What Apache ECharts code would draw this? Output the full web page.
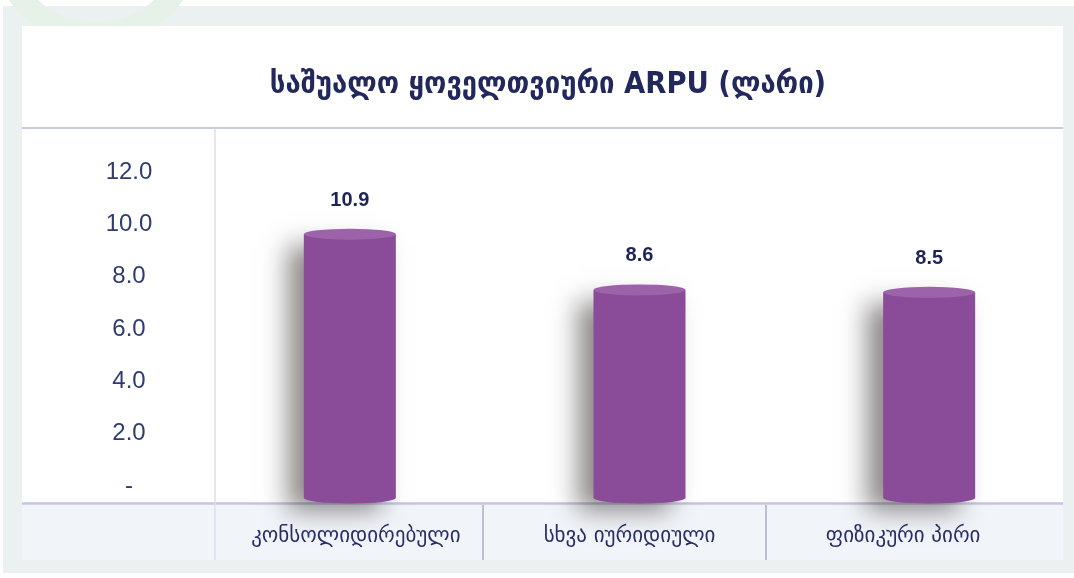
<!DOCTYPE html>
<html>
<head>
<meta charset="utf-8">
<script src="https://cdn.jsdelivr.net/npm/echarts@6/dist/echarts.min.js"></script>
<style>
  html, body { margin: 0; padding: 0; background: #ffffff; }
  #chart { width: 1074px; height: 578px; }
</style>
</head>
<body>
<div id="chart"></div>
<script>
// ---- data ----
const chartTitle = 'საშუალო ყოველთვიური ARPU (ლარი)';
const categories = ['კონსოლიდირებული', 'სხვა იურიდიული', 'ფიზიკური პირი'];
const arpuValues = [10.9, 8.6, 8.5];
const yAxisMin = 0;
const yAxisMax = 12;
const yAxisStep = 2;

// ---- styles ----
const BAR = '#8A4B98';
const BAR_TOP = '#9D63AA';
const GEO_FONT = "'DejaVu Sans', 'Noto Sans', sans-serif";
const NUM_FONT = "'Liberation Sans', Arial, sans-serif";

const chart = echarts.init(document.getElementById('chart'), null, { renderer: 'canvas' });

const option = {
  animation: false,
  backgroundColor: '#ffffff',
  title: {
    text: chartTitle,
    left: 543,
    top: 65,
    textAlign: 'center',
    textStyle: {
      fontFamily: "'DejaVu Sans Condensed', 'DejaVu Sans', sans-serif",
      fontWeight: 'bold',
      fontSize: 30.5,
      color: '#23285C'
    }
  },
  graphic: [
    { type: 'rect', z: -10, shape: { x: 3, y: 6, width: 1071, height: 567 }, style: { fill: '#EBF1F0' } },
    { type: 'circle', z: -9, shape: { cx: 96, cy: -62, r: 96 }, style: { fill: 'none', stroke: '#E6F1E8', lineWidth: 22 } },
    { type: 'rect', z: -8, shape: { x: 22, y: 26, width: 1041, height: 534 }, style: { fill: '#ffffff' } },
    { type: 'rect', z: -7, shape: { x: 22, y: 503, width: 1041, height: 57 }, style: { fill: '#F1F5F9' } },
    { type: 'line', z: -6, shape: { x1: 22, y1: 128, x2: 1063, y2: 128 }, style: { stroke: '#C9CCDF', lineWidth: 2 } },
    { type: 'line', z: -6, shape: { x1: 22, y1: 503.5, x2: 1063, y2: 503.5 }, style: { stroke: '#C3C7DC', lineWidth: 2.5 } },
    { type: 'line', z: -6, shape: { x1: 215, y1: 129, x2: 215, y2: 560 }, style: { stroke: '#DEDEEB', lineWidth: 1.5 } },
    { type: 'line', z: -6, shape: { x1: 483, y1: 505, x2: 483, y2: 560 }, style: { stroke: '#BCC0D5', lineWidth: 2 } },
    { type: 'line', z: -6, shape: { x1: 766, y1: 505, x2: 766, y2: 560 }, style: { stroke: '#BCC0D5', lineWidth: 2 } }
  ],
  grid: [
    { left: 215, width: 848, top: 172, height: 314 },   // y labels
    { left: 205, width: 870, top: 207.6, height: 290.4 }, // bars
    { left: 219, width: 821, top: 503, height: 57 }       // category row
  ],
  xAxis: [
    { gridIndex: 0, type: 'category', data: categories, show: false },
    { gridIndex: 1, type: 'category', data: categories, show: false },
    {
      gridIndex: 2, type: 'category', data: categories, position: 'bottom',
      axisLine: { show: false }, axisTick: { show: false }, splitLine: { show: false },
      axisLabel: {
        margin: -23, verticalAlign: 'middle', interval: 0,
        fontFamily: GEO_FONT, fontSize: 21, color: '#2A2E68'
      }
    }
  ],
  yAxis: [
    {
      gridIndex: 0, type: 'value', min: yAxisMin, max: yAxisMax, interval: yAxisStep,
      axisLine: { show: false }, axisTick: { show: false }, splitLine: { show: false },
      axisLabel: {
        align: 'center', margin: 86,
        fontFamily: NUM_FONT, fontSize: 24, color: '#2E3C70',
        formatter: v => (v === 0 ? '-' : v.toFixed(1))
      }
    },
    { gridIndex: 1, type: 'value', min: yAxisMin, max: yAxisMax, show: false },
    { gridIndex: 2, type: 'value', show: false }
  ],
  series: [
    {
      type: 'bar',
      xAxisIndex: 1, yAxisIndex: 1,
      data: arpuValues,
      barWidth: 92,
      z: 2,
      itemStyle: {
        color: BAR,
        shadowColor: 'rgba(30,20,20,0.5)',
        shadowBlur: 24,
        shadowOffsetX: -16,
        shadowOffsetY: 12
      },
      label: {
        show: true, position: 'top', distance: 24,
        fontFamily: NUM_FONT, fontWeight: 'bold', fontSize: 20, color: '#1F2456',
        formatter: p => p.value.toFixed(1)
      }
    },
    {
      type: 'pictorialBar',
      xAxisIndex: 1, yAxisIndex: 1,
      data: arpuValues,
      symbol: 'circle',
      symbolSize: [92, 11],
      symbolPosition: 'start',
      symbolOffset: [0, '50%'],
      barGap: '-100%',
      z: 3,
      itemStyle: { color: BAR }
    },
    {
      type: 'pictorialBar',
      xAxisIndex: 1, yAxisIndex: 1,
      data: arpuValues,
      symbol: 'circle',
      symbolSize: [92, 11],
      symbolPosition: 'end',
      symbolOffset: [0, '-50%'],
      barGap: '-100%',
      z: 4,
      itemStyle: { color: BAR_TOP }
    }
  ]
};

chart.setOption(option);
</script>
</body>
</html>
